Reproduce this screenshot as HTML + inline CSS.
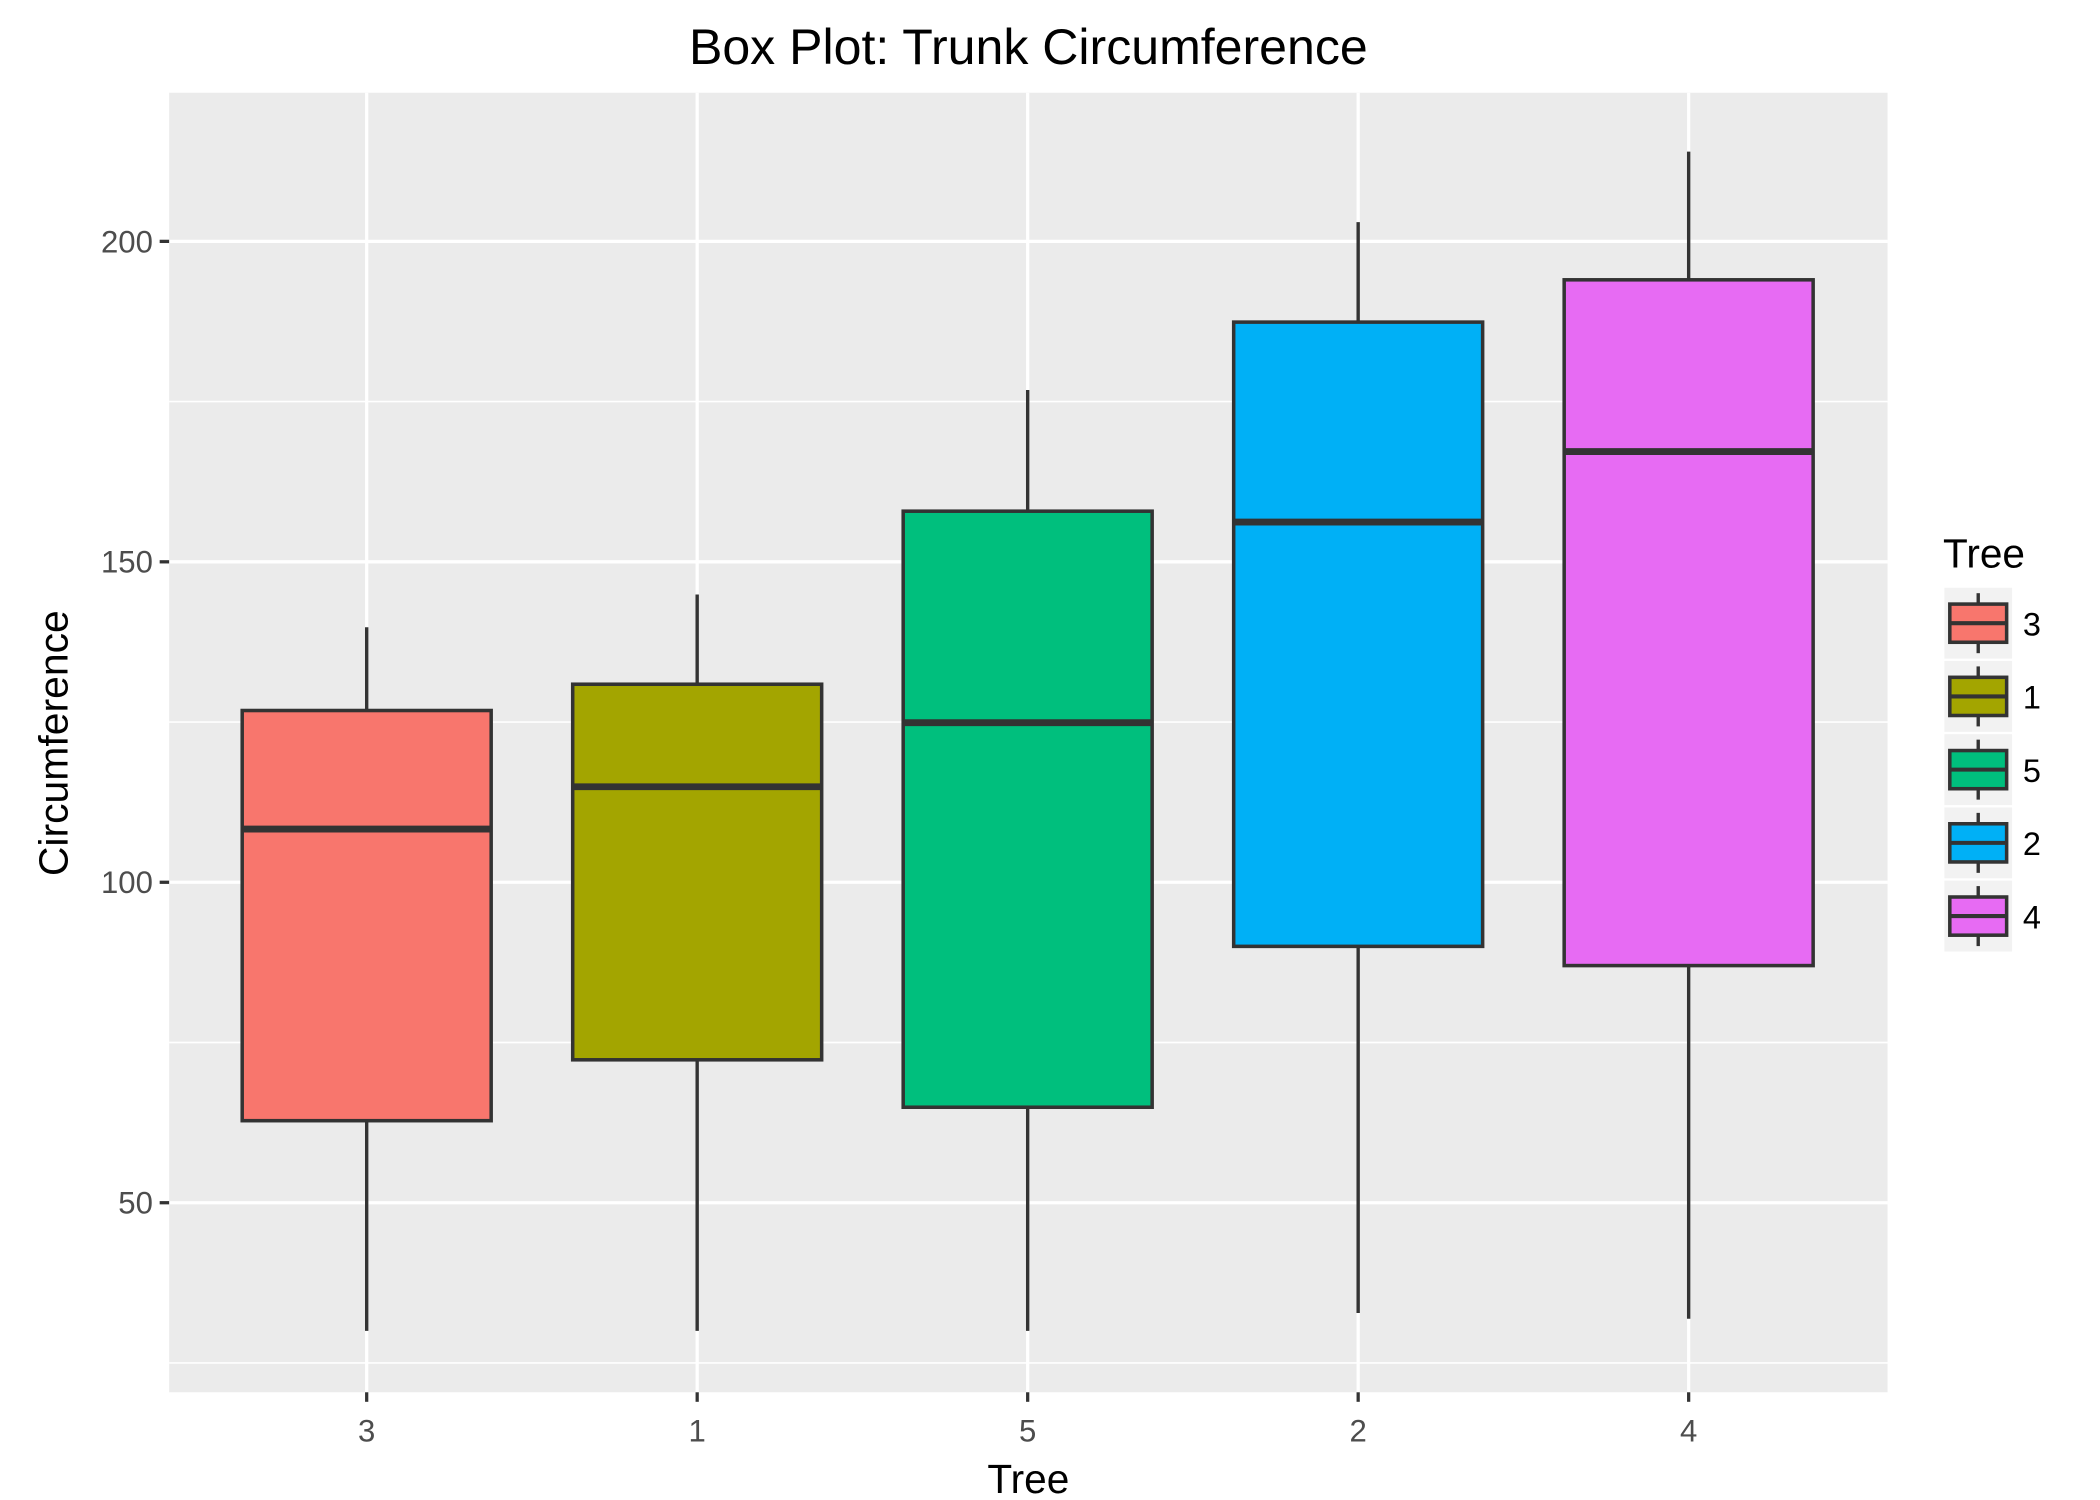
<!DOCTYPE html>
<html><head><meta charset="utf-8"><style>html,body{margin:0;padding:0;background:#fff}svg{display:block}</style></head>
<body>
<svg id="chart" width="2100" height="1500" viewBox="0 0 1552 1100" preserveAspectRatio="none" xmlns="http://www.w3.org/2000/svg" font-family="'Liberation Sans', sans-serif">
<rect width="1552" height="1100" fill="#fff"/>
<text x="760" y="47" font-size="37" text-anchor="middle" fill="#000">Box Plot: Trunk Circumference</text>
<rect x="125" y="68" width="1270" height="953" fill="#ebebeb"/>
<g id="grid"></g>
<g id="boxes"></g>
<g id="axes"></g>
<text x="760" y="1095" font-size="30" text-anchor="middle" fill="#000">Tree</text>
<text transform="translate(50,545) rotate(-90)" font-size="30" text-anchor="middle" fill="#000">Circumference</text>
<g id="legend">
<text x="1436" y="416" font-size="30" fill="#000">Tree</text>
</g>
</svg>
<script>
const categories = ['3','1','5','2','4'];
const mins = [30, 30, 30, 32.8, 31.9];
const q1s = [62.8, 72.3, 64.9, 90, 87];
const medians = [108.3, 114.9, 124.9, 156.2, 167.2];
const q3s = [126.8, 130.9, 157.9, 187.4, 194];
const maxs = [139.8, 144.9, 176.8, 203, 214];
const colors = ['#F8766D','#A3A500','#00BF7D','#00B0F6','#E76BF3'];
const yTicks = [50, 100, 150, 200];
const yMinor = [25, 75, 125, 175];

const NS = 'http://www.w3.org/2000/svg';
const y = v => 647 - (v - 100) * 4.7;
const x = i => 271 + i * 244.25;
const BW = 184;
function mk(tag, attrs, parent) {
  const e = document.createElementNS(NS, tag);
  for (const k in attrs) e.setAttribute(k, attrs[k]);
  parent.appendChild(e);
  return e;
}
const grid = document.getElementById('grid');
const boxes = document.getElementById('boxes');
const axes = document.getElementById('axes');
const legend = document.getElementById('legend');

yMinor.forEach(v => {
  const l = mk('line', {x1:125, x2:1395, y1:y(v), y2:y(v), stroke:'#fff', 'stroke-width':1.2}, grid);
  
  
});
yTicks.forEach(v => {
  const l = mk('line', {x1:125, x2:1395, y1:y(v), y2:y(v), stroke:'#fff', 'stroke-width':2.4}, grid);
  
  
  const t = mk('line', {x1:118, x2:125, y1:y(v), y2:y(v), stroke:'#333', 'stroke-width':2.4}, axes);
  
  
  const tx = mk('text', {x:113, y:y(v)+8, 'font-size':23, 'text-anchor':'end', fill:'#4d4d4d'}, axes);
  tx.textContent = v;
  
  
});
categories.forEach((c, i) => {
  const l = mk('line', {x1:x(i), x2:x(i), y1:68, y2:1021, stroke:'#fff', 'stroke-width':2.4}, grid);
  
  
  const t = mk('line', {x1:x(i), x2:x(i), y1:1021, y2:1028, stroke:'#333', 'stroke-width':2.4}, axes);
  
  
  const tx = mk('text', {x:x(i), y:1057, 'font-size':23, 'text-anchor':'middle', fill:'#4d4d4d'}, axes);
  tx.textContent = c;
  
  

  const g = mk('g', {}, boxes);
  
  
  const w1 = mk('line', {x1:x(i), x2:x(i), y1:y(maxs[i]), y2:y(q3s[i]), stroke:'#333', 'stroke-width':2.5}, g);
  
  
  const w2 = mk('line', {x1:x(i), x2:x(i), y1:y(q1s[i]), y2:y(mins[i]), stroke:'#333', 'stroke-width':2.5}, g);
  
  
  const r = mk('rect', {x:x(i)-BW/2, y:y(q3s[i]), width:BW, height:y(q1s[i])-y(q3s[i]), fill:colors[i], stroke:'#333', 'stroke-width':2.6}, g);
  
  
  const m = mk('line', {x1:x(i)-BW/2, x2:x(i)+BW/2, y1:y(medians[i]), y2:y(medians[i]), stroke:'#333', 'stroke-width':5}, g);
  
  

  const cy = 457 + i * 53.7;
  const lg = mk('g', {}, legend);
  
  
  const bg = mk('rect', {x:1437, y:cy-26, width:50, height:52, fill:'#f2f2f2'}, lg);
  
  
  const kl = mk('line', {x1:1462, x2:1462, y1:cy-22, y2:cy+22, stroke:'#333', 'stroke-width':2.5}, lg);
  
  
  const kr = mk('rect', {x:1441, y:cy-14, width:42, height:28, fill:colors[i], stroke:'#333', 'stroke-width':2.6}, lg);
  
  
  const km = mk('line', {x1:1441, x2:1483, y1:cy, y2:cy, stroke:'#333', 'stroke-width':3}, lg);
  
  
  const lt = mk('text', {x:1495, y:cy+9, 'font-size':24, fill:'#000'}, lg);
  lt.textContent = c;
  
  
});
</script>
</body></html>
